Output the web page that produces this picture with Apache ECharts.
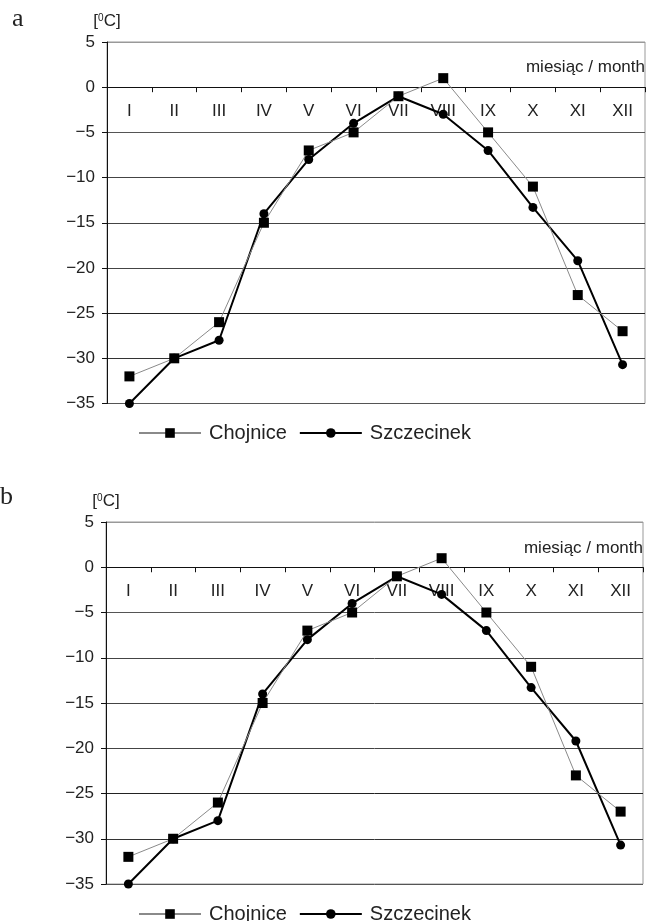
<!DOCTYPE html>
<html>
<head>
<meta charset="utf-8">
<script src="https://cdn.jsdelivr.net/npm/echarts@6/dist/echarts.min.js"></script>
<style>
html,body{margin:0;padding:0;background:#fff;}
#chart{width:649px;height:921px;}
</style>
</head>
<body>
<div id="chart"></div>
<script>
// ---- data ----
var months = ['I','II','III','IV','V','VI','VII','VIII','IX','X','XI','XII'];
var chojnice = [-32, -30, -26, -15, -7, -5, -1, 1, -5, -11, -23, -27];
var szczecinek = [-35, -30, -28, -14, -8, -4, -1, -3, -7, -13.3, -19.2, -30.7];
var yMin = -35, yMax = 5, yStep = 5;
var panelLabels = ['a', 'b'];
var unitLabel = '[{s|0}C]';
var xName = 'miesiąc / month';
var seriesNames = ['Chojnice', 'Szczecinek'];

// ---- layout ----
var FONT = 'Liberation Sans, Arial, sans-serif';
var TXT = '#222';
var grids = [
  {left: 107, top: 42, width: 538, height: 361.5},
  {left: 106, top: 522, width: 537, height: 362}
];
var legendTops = [418, 899];
var xNameTops = [59, 540];
var panelY = [19, 497];
var panelX = [12, 0];

var chart = echarts.init(document.getElementById('chart'), null, {renderer: 'canvas'});

var splitColors = ['#555', '#333', '#222', '#444', '#444', '#444', '#555', '#222', '#999'];

var option = {
  animation: false,
  backgroundColor: '#fff',
  grid: grids.map(function (g) {
    return {left: g.left, top: g.top, width: g.width, height: g.height,
      show: true, borderColor: '#999', borderWidth: 1, backgroundColor: 'transparent',
      outerBoundsMode: 'none', containLabel: false};
  }),
  xAxis: grids.map(function (g, i) {
    // category axis drawn along the zero line of the value axis
    var zeroOffset = -g.height * (yMax - 0) / (yMax - yMin);
    return {
      type: 'category', gridIndex: i, data: months, boundaryGap: true,
      position: 'top', offset: zeroOffset,
      axisLine: {onZero: false, lineStyle: {color: '#111', width: 1}},
      axisTick: {show: true, interval: 0, length: 5, inside: true, lineStyle: {color: '#111'}},
      axisLabel: {interval: 0, inside: true, margin: 16, color: TXT, fontSize: 17, fontFamily: FONT},
      splitLine: {show: false}
    };
  }),
  yAxis: grids.map(function (g, i) {
    return {
      type: 'value', gridIndex: i, min: yMin, max: yMax, interval: yStep,
      name: unitLabel, nameLocation: 'end', nameGap: 12,
      nameTextStyle: {color: TXT, fontSize: 17, fontFamily: FONT, align: 'center',
        rich: {s: {fontSize: 10, fontFamily: FONT, color: TXT, verticalAlign: 'top', padding: [0, 0, 7, 0]}}},
      axisLine: {show: true, onZero: false, lineStyle: {color: '#111', width: 1}},
      axisTick: {show: true, length: 5, lineStyle: {color: '#111'}},
      axisLabel: {margin: 12, color: TXT, fontSize: 17, fontFamily: FONT,
        formatter: function (v) { return String(v).replace('-', '\u2212'); }},
      splitLine: {show: true, lineStyle: {color: splitColors, width: 1}}
    };
  }),
  legend: grids.map(function (g, i) {
    return {
      data: seriesNames, left: 133, top: legendTops[i], orient: 'horizontal',
      itemWidth: 62, itemHeight: 12, itemGap: 12,
      textStyle: {color: TXT, fontSize: 20, fontFamily: FONT, padding: [0, 0, 0, 3]},
      selectedMode: false
    };
  }),
  graphic: [].concat(
    panelLabels.map(function (t, i) {
      return {type: 'text', x: panelX[i], y: panelY[i],
        style: {text: t, font: '26px "Liberation Serif", "Times New Roman", serif', fill: '#222', verticalAlign: 'middle', align: 'left'}};
    }),
    grids.map(function (g, i) {
      return {type: 'text', right: 649 - (g.left + g.width), top: xNameTops[i],
        style: {text: xName, font: '17px ' + FONT, fill: TXT}};
    })
  ),
  series: []
};

grids.forEach(function (g, i) {
  option.series.push({
    name: 'Szczecinek', type: 'line', xAxisIndex: i, yAxisIndex: i,
    data: szczecinek, symbol: 'circle', symbolSize: 9,
    lineStyle: {color: '#000', width: 2}, itemStyle: {color: '#000'},
    emphasis: {disabled: true}
  });
  option.series.push({
    name: 'Chojnice', type: 'line', xAxisIndex: i, yAxisIndex: i,
    data: chojnice, symbol: 'rect', symbolSize: 10,
    lineStyle: {color: '#8a8a8a', width: 1}, itemStyle: {color: '#000'},
    emphasis: {disabled: true}
  });
});

chart.setOption(option);
</script>
</body>
</html>
